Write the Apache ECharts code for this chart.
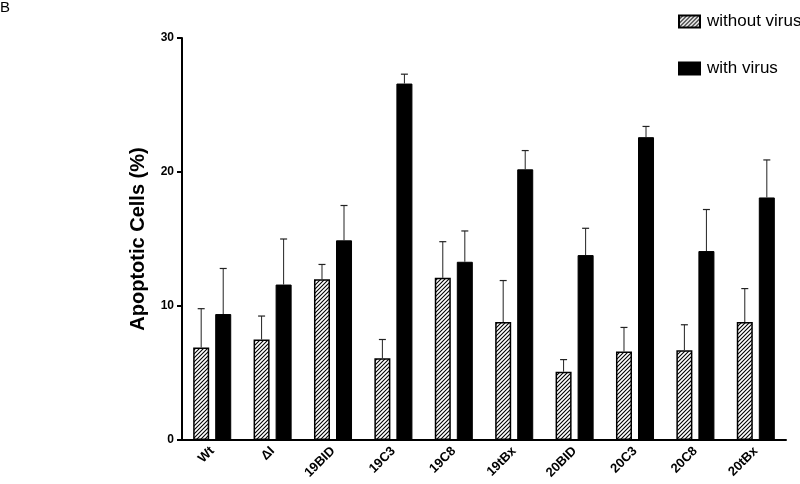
<!DOCTYPE html>
<html><head><meta charset="utf-8">
<script src="https://cdn.jsdelivr.net/npm/echarts@6/dist/echarts.min.js"></script>
<style>html,body{margin:0;padding:0;background:#fff}#c{width:800px;height:484px}</style>
</head><body><div id="c"></div>
<script>
const categories = ['Wt','\u0394I','19BID','19C3','19C8','19tBx','20BID','20C3','20C8','20tBx'];
const withoutVirus = [6.9, 7.5, 12.0, 6.1, 12.1, 8.8, 5.1, 6.6, 6.7, 8.8];
const withoutVirusErr = [2.9, 1.75, 1.1, 1.4, 2.7, 3.1, 0.9, 1.8, 1.9, 2.5];
const withVirus = [9.4, 11.6, 14.9, 26.6, 13.3, 20.2, 13.8, 22.6, 14.1, 18.1];
const withVirusErr = [3.4, 3.4, 2.6, 0.7, 2.3, 1.4, 2.0, 0.8, 3.1, 2.8];
const yTicks = [0, 10, 20, 30];

const FONT = 'Liberation Sans, Arial, sans-serif';
const pc = document.createElement('canvas');
pc.width = 4; pc.height = 4;
const g = pc.getContext('2d');
g.fillStyle = '#fff'; g.fillRect(0,0,4,4);
g.strokeStyle = '#000'; g.lineWidth = 1.1;
g.beginPath();
g.moveTo(-1,5); g.lineTo(5,-1);
g.moveTo(-1,1); g.lineTo(1,-1);
g.moveTo(3,5); g.lineTo(5,3);
g.stroke();
const hatch = {image: pc, repeat: 'repeat'};

const CAT_GAP = 0.37, BAR_GAP = 0.375;
function errSeries(vals, errs, side) {
  return {
    type: 'custom',
    z: 3,
    data: vals.map((v, i) => [i, v, v + errs[i]]),
    renderItem: function (params, api) {
      const band = api.size([1, 0])[0];
      const w = band * (1 - CAT_GAP) / (2 + BAR_GAP);
      const off = side * w * (1 + BAR_GAP) / 2;
      const p0 = api.coord([api.value(0), api.value(1)]);
      const p1 = api.coord([api.value(0), api.value(2)]);
      const x = p0[0] + off;
      const cap = 3.5;
      return {
        type: 'group',
        children: [
          {type: 'line', shape: {x1: x, y1: p0[1], x2: x, y2: p1[1]}, style: {stroke: '#222', lineWidth: 1}},
          {type: 'line', shape: {x1: x - cap, y1: p1[1], x2: x + cap, y2: p1[1]}, style: {stroke: '#222', lineWidth: 1.2}}
        ]
      };
    }
  };
}

const chart = echarts.init(document.getElementById('c'));
chart.setOption({
  animation: false,
  backgroundColor: '#fff',
  grid: {left: 182, right: 14, top: 38, bottom: 44},
  graphic: [{type: 'text', left: 0, top: 0, style: {text: 'B', font: '15px ' + FONT, fill: '#000'}}],
  legend: {
    orient: 'vertical', left: 673, top: 8, icon: 'rect',
    itemWidth: 21, itemHeight: 12, itemGap: 30,
    data: ['without virus', 'with virus'],
    textStyle: {fontFamily: FONT, fontSize: 17, color: '#000', padding: [0, 0, 0, 2]}
  },
  xAxis: {
    type: 'category', data: categories,
    axisLine: {lineStyle: {color: '#000', width: 2}},
    axisTick: {alignWithLabel: true, length: 5, lineStyle: {color: '#000', width: 2}},
    axisLabel: {rotate: 45, fontFamily: FONT, fontWeight: 'bold', fontSize: 13, color: '#000', margin: 9}
  },
  yAxis: {
    type: 'value', min: 0, max: 30, interval: 10,
    name: 'Apoptotic Cells (%)', nameLocation: 'middle', nameGap: 34,
    nameTextStyle: {fontFamily: FONT, fontWeight: 'bold', fontSize: 20, color: '#000'},
    axisLine: {show: true, lineStyle: {color: '#000', width: 2}},
    axisTick: {show: true, length: 5, lineStyle: {color: '#000', width: 2}},
    axisLabel: {fontFamily: FONT, fontWeight: 'bold', fontSize: 12, color: '#000', margin: 8,
      formatter: v => yTicks.includes(v) ? String(v) : ''},
    splitLine: {show: false}
  },
  series: [
    {name: 'without virus', type: 'bar', data: withoutVirus, barCategoryGap: '37%', barGap: '37.5%',
      itemStyle: {color: hatch, borderColor: '#000', borderWidth: 1.5}},
    {name: 'with virus', type: 'bar', data: withVirus, barCategoryGap: '37%', barGap: '37.5%',
      itemStyle: {color: '#000', borderColor: '#000', borderWidth: 1}},
    errSeries(withoutVirus, withoutVirusErr, -1),
    errSeries(withVirus, withVirusErr, 1)
  ]
});
</script></body></html>
